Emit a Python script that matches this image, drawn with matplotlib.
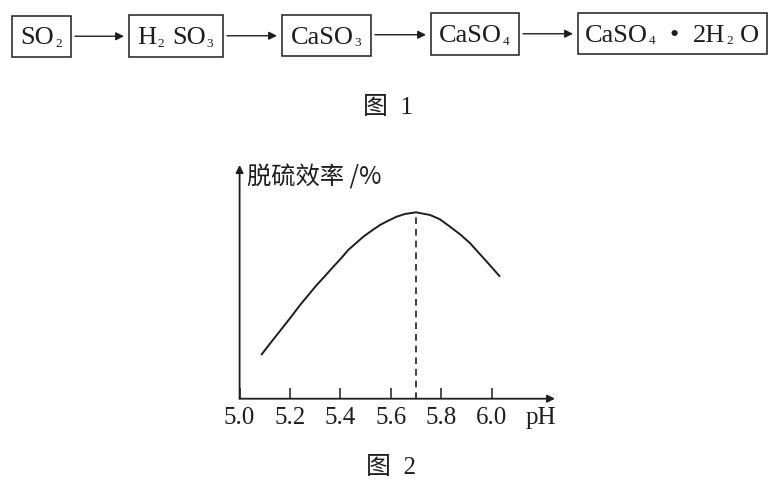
import re

import matplotlib.pyplot as plt
from matplotlib.patches import Rectangle

plt.switch_backend("Agg")

plt.rcParams["font.family"] = ["Liberation Serif", "Noto Sans CJK SC"]

# Figure 1: conversion chain ("_n" marks a subscript digit)
species = ["SO_2", "H_2 SO_3", "CaSO_3", "CaSO_4", "CaSO_4  •  2H_2 O"]

# Figure 2: desulfurization efficiency vs pH (arbitrary units)
ph = [5.088, 5.121, 5.173, 5.207, 5.240, 5.273, 5.306, 5.339, 5.372, 5.405,
      5.431, 5.491, 5.524, 5.557, 5.590, 5.623, 5.656, 5.700, 5.756, 5.795,
      5.835, 5.875, 5.915, 5.947, 5.981, 6.031]
efficiency = [44.4, 55.2, 71.8, 82.7, 93.7, 103.7, 113.7, 122.7, 132.0, 141.0,
              148.7, 162.0, 168.0, 173.7, 178.0, 182.0, 184.7, 186.4, 183.7, 179.4,
              172.0, 164.4, 155.4, 146.4, 137.0, 122.7]
ph_ticks = [5.0, 5.2, 5.4, 5.6, 5.8, 6.0]
tick_labels = ["5.0", "5.2", "5.4", "5.6", "5.8", "6.0"]
peak_ph = 5.70

INK = "#1e1e1e"
W, H = 782, 494
fig = plt.figure(figsize=(W / 100, H / 100), dpi=100)
renderer = fig.canvas.get_renderer()

# background layer in pixel coordinates for the flow diagram and captions
bg = fig.add_axes([0, 0, 1, 1])
bg.set_xlim(0, W)
bg.set_ylim(H, 0)
bg.axis("off")


def draw_formula(xc, yb, formula, size):
    """Draws a formula centred on xc with baseline yb, small dropped subscripts."""
    px = size * 100 / 72
    runs = []
    for tok in re.split(r"(_\d| +)", formula):
        if not tok:
            continue
        if tok.startswith("_"):
            runs.append((tok[1:], size * 0.5, 0.09 * px))
        elif tok.isspace():
            runs.append((None, 0.25 * px * len(tok), 0))
        else:
            runs.append((tok, size, 0))
    items, total = [], 0.0
    for s, sz, dy in runs:
        if s is None:
            items.append((None, sz, dy))
            total += sz
            continue
        t = bg.text(0, yb + dy, s, fontsize=sz, ha="left", va="baseline", color=INK)
        w = t.get_window_extent(renderer).width + 1
        items.append((t, w, dy))
        total += w
    x = xc - total / 2
    for t, w, dy in items:
        if t is not None:
            t.set_x(x)
        x += w


# box layout in px: (left, top, right, bottom)
box_px = [(12, 16, 71, 57), (129, 15, 223, 57), (282, 15, 371, 56),
          (431, 13, 519, 55), (578, 13, 767, 54)]

for label, (x0, y0, x1, y1) in zip(species, box_px):
    bg.add_patch(Rectangle((x0, y0), x1 - x0, y1 - y0, fill=False, lw=1.1, ec=INK))
    draw_formula((x0 + x1) / 2, y1 - 12.5, label, 19)

for (a, b) in zip(box_px[:-1], box_px[1:]):
    ym = (a[1] + a[3] + b[1] + b[3]) / 4
    bg.annotate("", xy=(b[0] - 5, ym), xytext=(a[2] + 4, ym),
                arrowprops=dict(arrowstyle="-|>", lw=1.0, color=INK,
                                mutation_scale=12, shrinkA=0, shrinkB=0))

bg.text(388, 108, "图  1", ha="center", va="center", fontsize=18, color=INK)
bg.text(391, 468, "图  2", ha="center", va="center", fontsize=18, color=INK)

# chart axes, placed to match the reference pixels
ax_left, ax_bottom, ax_right, ax_top = 239.6, 398.7, 555.0, 165.0
ax = fig.add_axes([ax_left / W, (H - ax_bottom) / H,
                   (ax_right - ax_left) / W, (ax_bottom - ax_top) / H])
ax.patch.set_alpha(0)
ax.set_xlim(5.0, 5.0 + (ax_right - ax_left) / 252.0)
ax.set_ylim(0, ax_bottom - ax_top)
for s in ax.spines.values():
    s.set_visible(False)

ax.plot(ph, efficiency, color=INK, lw=1.4, solid_joinstyle="round")
ax.plot([peak_ph, peak_ph], [0, max(efficiency)], color=INK, lw=1.2,
        ls=(0, (4, 3)))

arrow_kw = dict(arrowstyle="-|>", lw=1.3, color=INK, mutation_scale=11,
                shrinkA=0, shrinkB=0)
ax.annotate("", xy=(1, 0), xytext=(0, 0), xycoords="axes fraction", arrowprops=arrow_kw)
ax.annotate("", xy=(0, 1), xytext=(0, 0), xycoords="axes fraction", arrowprops=arrow_kw)

ax.set_xticks(ph_ticks)
ax.set_xticklabels(tick_labels)
ax.tick_params(axis="x", direction="in", length=8, width=1.1, pad=6,
               labelsize=18, colors=INK)
ax.set_yticks([])

ax.text(541, 418, "pH", transform=bg.transData, ha="center", va="center",
        fontsize=18, color=INK)
ax.text(247, 177, "脱硫效率 /%", transform=bg.transData, ha="left", va="center",
        fontsize=17.5, color=INK, family=["Noto Sans CJK SC"])

fig.savefig("out.png", dpi=100, facecolor="white")
